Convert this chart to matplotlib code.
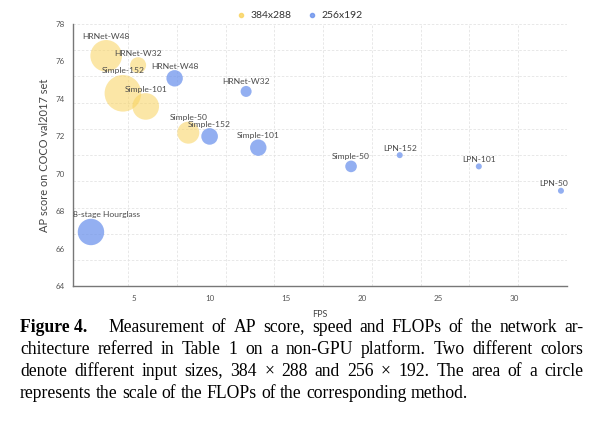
"""
AP vs FPS bubble chart (COCO val2017, non-GPU)
"""

import numpy as np
import matplotlib.pyplot as plt
from matplotlib.lines import Line2D

# 384x288 input
names_384 = ['HRNet-W48', 'HRNet-W32', 'Simple-152', 'Simple-101', 'Simple-50']
fps_384 = [3.2, 5.3, 4.3, 5.8, 8.6]
ap_384 = [76.3, 75.8, 74.3, 73.6, 72.2]
flops_384 = [31.0, 15.7, 35.9, 26.1, 21.6]

# 256x192 input
names_256 = ['HRNet-W48', 'HRNet-W32', 'Simple-152', 'Simple-101',
             '8-stage Hourglass', 'Simple-50', 'LPN-152', 'LPN-101', 'LPN-50']
fps_256 = [7.7, 12.4, 10.0, 13.2, 2.2, 19.3, 22.5, 27.7, 33.1]
ap_256 = [75.1, 74.4, 72.0, 71.4, 66.9, 70.4, 71.0, 70.4, 69.1]
flops_256 = [16.1, 10.8, 16.3, 16.1, 25.9, 11.4, 5.9, 5.9, 5.9]

legend_labels = ['384x288', '256x192']
yticks = [64, 66, 68, 70, 72, 74, 76, 78]
xticks = [5, 10, 15, 20, 25, 30]

caption = [
    'Measurement of AP score, speed and FLOPs of the network ar-',
    'chitecture referred in Table 1 on a non-GPU platform. Two different colors',
    'denote different input sizes, 384 \u00d7 288 and 256 \u00d7 192. The area of a circle',
    'represents the scale of the FLOPs of the corresponding method.',
]

YELLOW = '#f9d35e'
BLUE = '#6a91ec'
PX = 0.72  # points per pixel at dpi 100


def radius_px(f):
    return 0.51 * f


fig = plt.figure(figsize=(6.09, 4.28), dpi=100)
ax = fig.add_axes([0.1194, 0.331, 0.8117, 0.613])

ax.set_xlim(1.0, 33.5)
ax.set_ylim(64, 78)

# grid (split lines are not on the tick positions in the original)
for gx in np.linspace(4.63, 33.5, 10)[:-1]:
    ax.axvline(gx, color='#e4e4e4', lw=0.6, ls=(0, (3, 2)), zorder=0)
for gy in np.linspace(64, 78, 11)[1:]:
    ax.axhline(gy, color='#e4e4e4', lw=0.6, ls=(0, (3, 2)), zorder=0)


def draw(xs, ys, fl, names, color, alpha):
    r = np.array([radius_px(f) for f in fl])
    ax.scatter(xs, ys, s=(2 * r * PX) ** 2, color=color, alpha=alpha,
               edgecolors='none', zorder=3)
    for x, y, rr, n in zip(xs, ys, r, names):
        dx, ha = 0, 'center'
        if n == '8-stage Hourglass':
            dx, ha = -18, 'left'
        elif n == 'LPN-50':
            dx, ha = 7, 'right'
        ax.annotate(n, (x, y), xytext=(dx * PX, (rr + 4) * PX),
                    textcoords='offset points', ha=ha, va='center',
                    fontsize=6.1, color='#4a4a4a', family='Lato', zorder=4)


draw(fps_384, ap_384, flops_384, names_384, YELLOW, 0.55)
draw(fps_256, ap_256, flops_256, names_256, BLUE, 0.72)

ax.set_xticks(xticks)
ax.set_yticks(yticks)
ax.tick_params(length=0, labelsize=5.8, labelcolor='#555555', pad=6)
for lab in ax.get_xticklabels() + ax.get_yticklabels():
    lab.set_family('Lato')
for s in ['top', 'right']:
    ax.spines[s].set_visible(False)
for s in ['left', 'bottom']:
    ax.spines[s].set_color('#777777')
    ax.spines[s].set_linewidth(1.0)

ax.set_xlabel('FPS', fontsize=6.5, color='#444444', family='Lato', labelpad=6)
ax.set_ylabel('AP score on COCO val2017 set', fontsize=7.9, color='#444444',
              family='Lato', labelpad=4)

handles = [Line2D([], [], ls='', marker='o', ms=3, color=YELLOW, alpha=0.8),
           Line2D([], [], ls='', marker='o', ms=3, color=BLUE, alpha=0.8)]
fig.legend(handles, legend_labels, loc='center', bbox_to_anchor=(0.487, 0.963),
           ncol=2, frameon=False, handletextpad=-0.1, columnspacing=0.9,
           prop={'family': 'Lato', 'size': 7.5}, labelcolor='#333333')

# caption, justified line by line
fig.canvas.draw()
renderer = fig.canvas.get_renderer()
left_px, right_px = 20, 583
line_y = [327, 349, 371, 393]
W, H = 609, 428
FS = 12.7
for i, (line, yp) in enumerate(zip(caption, line_y)):
    words = line.split(' ')
    if i == 0:
        words = ['Figure 4.'] + words
    texts = []
    for w in words:
        t = fig.text(0, 1 - yp / H, w, fontsize=FS, family='Liberation Serif',
                     weight='bold' if w == 'Figure 4.' else 'normal',
                     va='center', ha='left', color='black')
        texts.append(t)
    widths = [t.get_window_extent(renderer).width for t in texts]
    n = len(texts) - 1
    if i == len(caption) - 1:
        gaps = [renderer.points_to_pixels(FS) * 0.25] * n
    else:
        total_gap = (right_px - left_px) - sum(widths)
        if i == 0:
            # wider gap after "Figure 4."
            unit = total_gap / (n + 2)
            gaps = [unit * 3] + [unit] * (n - 1)
        else:
            gaps = [total_gap / n] * n
    x = left_px
    for k, t in enumerate(texts):
        t.set_x(x / W)
        if k < n:
            x += widths[k] + gaps[k]

fig.savefig('out.png', dpi=100)
